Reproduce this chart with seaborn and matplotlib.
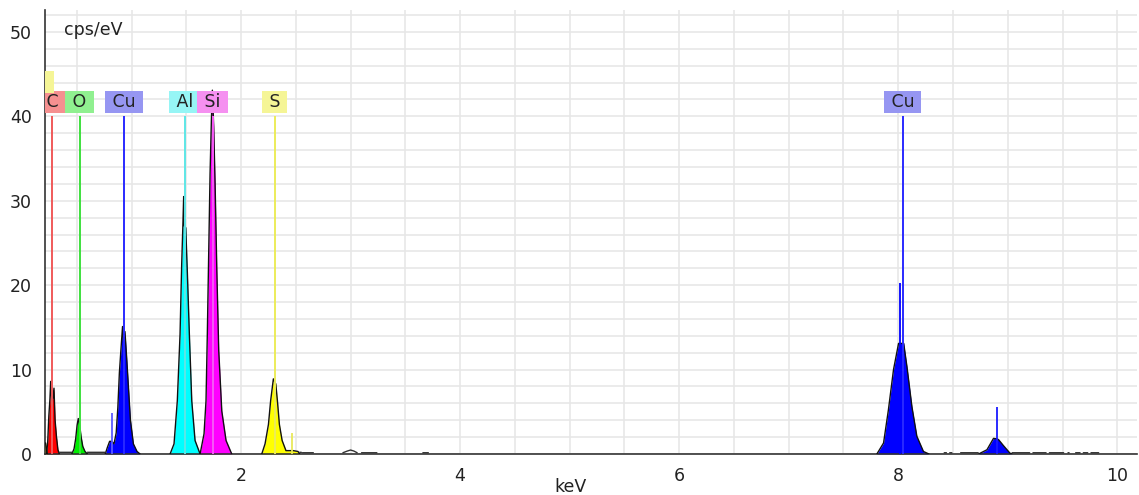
from matplotlib import pyplot as plt
from matplotlib.ticker import MultipleLocator
import seaborn as sns
import numpy as np

# peaks (keV, cps/eV)
c_keV = [0.225, 0.235, 0.245, 0.255, 0.262, 0.272, 0.282, 0.292, 0.302, 0.315, 0.328, 0.34]
c_cps = [0.0, 1.5, 4.5, 6.5, 8.6, 6.3, 6.6, 7.8, 4.0, 2.0, 0.5, 0.0]

o_keV = [0.455, 0.475, 0.49, 0.503, 0.514, 0.525, 0.54, 0.555, 0.575, 0.597]
o_cps = [0.0, 0.6, 1.8, 3.4, 4.2, 3.6, 2.0, 0.9, 0.3, 0.0]

cul_keV = [0.76, 0.78, 0.80, 0.82, 0.84, 0.86, 0.875, 0.889, 0.905, 0.918,
           0.93, 0.94, 0.955, 0.97, 0.99, 1.017, 1.05, 1.078]
cul_cps = [0.0, 0.8, 1.5, 1.5, 1.2, 2.5, 5.5, 9.6, 12.7, 15.1,
           12.8, 14.5, 11.5, 8.3, 4.0, 1.2, 0.3, 0.0]

al_keV = [1.352, 1.388, 1.418, 1.443, 1.458, 1.47, 1.476, 1.482, 1.495, 1.51, 1.528, 1.55, 1.58, 1.626]
al_cps = [0.0, 1.2, 6.3, 14.2, 22.5, 27.6, 30.5, 27.0, 26.8, 21.4, 14.2, 6.3, 1.6, 0.0]

si_keV = [1.626, 1.662, 1.68, 1.692, 1.705, 1.717, 1.729, 1.738, 1.75, 1.763, 1.778, 1.796, 1.824, 1.863, 1.915]
si_cps = [0.0, 2.4, 6.3, 14.2, 24.1, 33.2, 39.5, 43.1, 38.8, 32.0, 22.2, 12.3, 5.1, 1.6, 0.0]

s_keV = [2.189, 2.219, 2.25, 2.27, 2.295, 2.317, 2.332, 2.35, 2.375, 2.41, 2.455, 2.477, 2.52, 2.535]
s_cps = [0.0, 1.2, 3.5, 6.3, 8.9, 8.3, 6.3, 3.5, 1.6, 0.4, 0.4, 0.4, 0.3, 0.0]

cuk_keV = [7.805, 7.866, 7.91, 7.957, 8.003, 8.025, 8.05, 8.08, 8.125, 8.17, 8.23, 8.28]
cuk_cps = [0.0, 1.3, 5.2, 10.0, 13.1, 13.1, 13.1, 10.3, 5.6, 2.1, 0.3, 0.0]

cukb_keV = [8.734, 8.81, 8.87, 8.9, 8.916, 8.96, 9.02, 9.04]
cukb_cps = [0.0, 0.5, 1.85, 1.8, 1.7, 1.0, 0.1, 0.0]

low_keV = [0.15, 0.215, 0.222, 0.23]
low_cps = [1.3, 1.3, 0.8, 0.0]

# single-channel spikes sticking out of the peaks
spike_keV = [0.818, 2.466, 8.018, 8.9]
spike_cps = [4.8, 2.5, 20.2, 5.6]
spike_colors = ["#5a5aff", "#e8e85a", "#0000ff", "#1a1aff"]

# background pieces between peaks
base_keV = [0.34, 0.455, np.nan, 0.597, 0.76, np.nan, 2.535, 2.55, np.nan, 2.56, 2.66, np.nan,
            2.93, 2.97, 3.0, 3.03, 3.06, np.nan, 3.10, 3.24, np.nan, 3.66, 3.71, np.nan,
            8.42, 8.44, np.nan, 8.47, 8.49, np.nan, 8.57, 8.73, np.nan, 9.04, 9.2, np.nan,
            9.23, 9.35, np.nan, 9.38, 9.51, np.nan, 9.55, 9.56, np.nan, 9.62, 9.66, np.nan,
            9.69, 9.73, np.nan, 9.76, 9.83]
base_cps = [0.2, 0.2, np.nan, 0.2, 0.2, np.nan, 0.2, 0.2, np.nan, 0.15, 0.15, np.nan,
            0.15, 0.35, 0.47, 0.35, 0.15, np.nan, 0.15, 0.15, np.nan, 0.15, 0.15, np.nan,
            0.15, 0.15, np.nan, 0.15, 0.15, np.nan, 0.15, 0.15, np.nan, 0.15, 0.15, np.nan,
            0.15, 0.15, np.nan, 0.15, 0.15, np.nan, 0.15, 0.15, np.nan, 0.15, 0.15, np.nan,
            0.15, 0.15, np.nan, 0.15, 0.15]

# element markers
el_names = ["C", "O", "Cu", "Al", "Si", "S", "Cu"]
el_keV = [0.277, 0.525, 0.930, 1.486, 1.740, 2.307, 8.040]
el_height = 40

peaks = [
    (low_keV, low_cps, "#ffff00"),
    (c_keV, c_cps, "#ff0000"),
    (o_keV, o_cps, "#00ee00"),
    (cul_keV, cul_cps, "#0000ff"),
    (al_keV, al_cps, "#00ffff"),
    (si_keV, si_cps, "#ff00ff"),
    (s_keV, s_cps, "#ffff00"),
    (cuk_keV, cuk_cps, "#0000ff"),
    (cukb_keV, cukb_cps, "#0000ff"),
]
line_colors = ["#f05a5a", "#3ee03e", "#2a2aff", "#5ee6e6", "#f55af5", "#ecec5a", "#2a2aff"]
box_colors = ["#f59090", "#90f090", "#9696f2", "#96f5f5", "#f590f0", "#f5f596", "#9696f2"]

sns.set_style("white")
plt.rcParams['font.family'] = ['DejaVu Sans']

fig = plt.figure(figsize=(11.39, 4.95), dpi=100)
ax = fig.add_axes([45 / 1139, 1 - 454 / 495, 1092 / 1139, 444 / 495])

for xs, ys, col in peaks:
    ax.fill_between(xs, ys, color=col, lw=0, zorder=2)
    sns.lineplot(x=xs, y=ys, color="#111111", lw=1.0, ax=ax, estimator=None, zorder=3)

ax.vlines(spike_keV, 0, spike_cps, colors=spike_colors, lw=1.3, zorder=3.5)
ax.plot(base_keV, base_cps, color="#333333", lw=1.0, zorder=3)

ax.vlines(el_keV, 0, el_height, colors=line_colors, lw=1.4, zorder=4)
for name, x, bc in zip(el_names, el_keV, box_colors):
    ax.text(x, 40.65, " " + name + " ", ha="center", va="bottom", fontsize=12.5, color="#222222",
            bbox=dict(boxstyle="square,pad=0.1", fc=bc, ec="none"), zorder=5, clip_on=True)
# stacked, clipped box at the left edge
ax.text(0.175, 43.0, "    ", ha="center", va="bottom", fontsize=12.5,
        bbox=dict(boxstyle="square,pad=0.1", fc="#f5f596", ec="none"), zorder=5, clip_on=True)

ax.text(0.38, 50.2, "cps/eV", fontsize=12.5, color="#222222", va="center")

ax.set_xlim(0.21, 10.18)
ax.set_ylim(0, 52.6)
ax.xaxis.set_major_locator(MultipleLocator(2))
ax.xaxis.set_minor_locator(MultipleLocator(0.5))
ax.yaxis.set_major_locator(MultipleLocator(10))
ax.yaxis.set_minor_locator(MultipleLocator(2))
ax.grid(True, which="both", color="#e6e6e6", lw=1.1, zorder=0)
ax.set_axisbelow(True)

ax.tick_params(which="both", direction="out", color="#333333", width=1.1, labelsize=12.5,
               labelcolor="#222222")
ax.tick_params(which="major", length=6)
ax.tick_params(which="minor", length=5)
sns.despine(ax=ax)
for sp in ["left", "bottom"]:
    ax.spines[sp].set_color("#333333")
    ax.spines[sp].set_linewidth(1.2)

ax.set_xlabel("keV", fontsize=12.5, color="#222222")
ax.xaxis.set_label_coords((570 - 45) / 1092, -0.055)
ax.set_ylabel("")

fig.savefig("out.png", dpi=100)
